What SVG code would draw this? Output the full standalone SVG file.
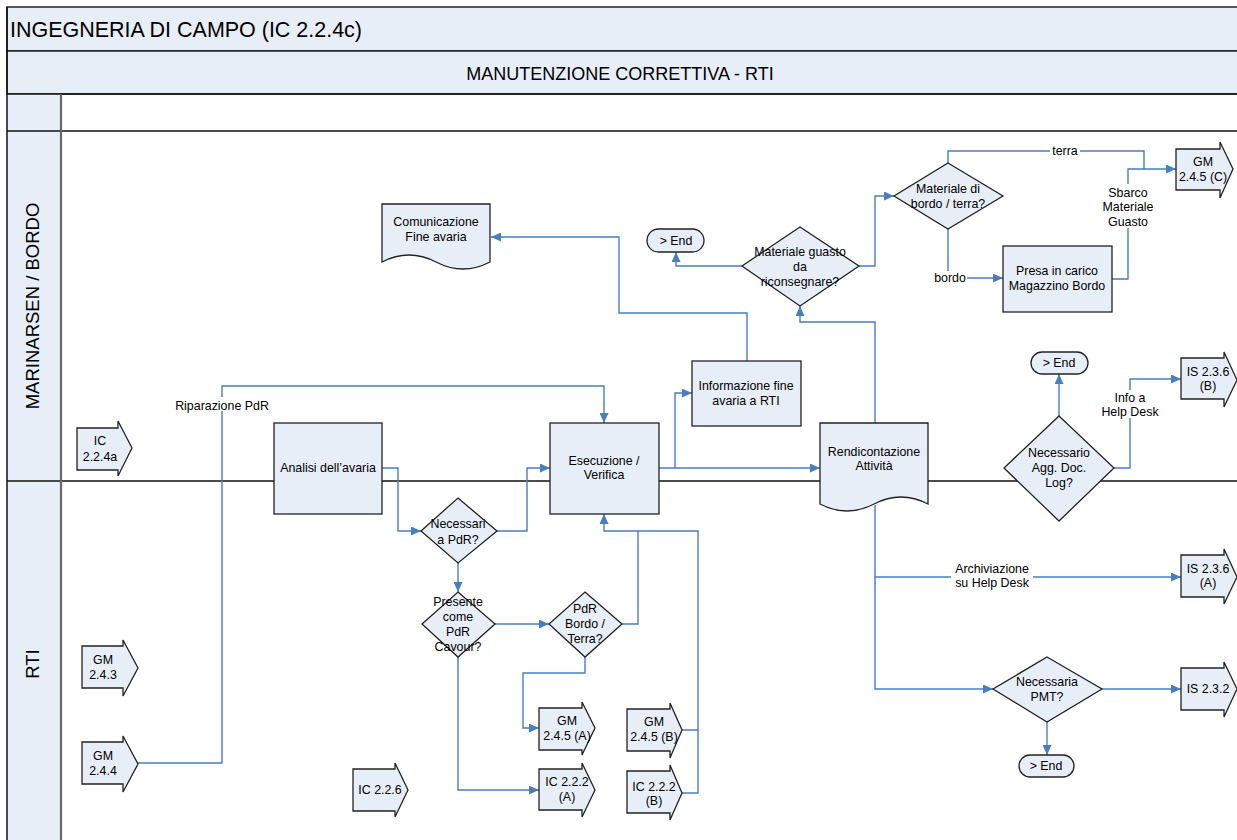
<svg xmlns="http://www.w3.org/2000/svg" width="1237" height="840" viewBox="0 0 1237 840">
<defs>
<style>
.hdr{fill:#E8EEF7;stroke:#222;stroke-width:1.5}
.shp{fill:#E8EEF7;stroke:#222;stroke-width:1.3}
.ln{fill:none;stroke:#4A7EBB;stroke-width:1.4}
.lane{stroke:#111;stroke-width:1.5;fill:none}
.col{stroke:#666;stroke-width:2.2}
text{font-family:"Liberation Sans",Arial,sans-serif;fill:#000}
.t{font-size:12.4px;text-anchor:middle}
.lbl{fill:#fff}
</style>
<marker id="ah" markerUnits="userSpaceOnUse" markerWidth="11" markerHeight="9" refX="10" refY="4.5" orient="auto" viewBox="0 0 11 9">
<path d="M0,0 L10,4.5 L0,9 Z" fill="#4A7EBB"/>
</marker>
</defs>

<g id="frame">
<rect x="0" y="0" width="1237" height="840" fill="#fff"/>
<rect class="hdr" x="7" y="7" width="1240" height="44"/>
<rect class="hdr" x="7" y="51" width="1240" height="43"/>
<rect x="7" y="94" width="54" height="760" fill="#E8EEF7"/>
<line class="lane" x1="7" y1="94" x2="1237" y2="94"/>
<line class="lane" x1="7" y1="131" x2="1237" y2="131"/>
<line class="lane" x1="7" y1="481" x2="1237" y2="481"/>
<line class="lane" x1="7" y1="7" x2="7" y2="840"/>
<line class="col" x1="61" y1="94" x2="61" y2="840"/>
<text x="10" y="37" style="font-size:21.5px" textLength="352" lengthAdjust="spacingAndGlyphs">INGEGNERIA DI CAMPO (IC 2.2.4c)</text>
<text x="620" y="80" style="font-size:18px;text-anchor:middle">MANUTENZIONE CORRETTIVA - RTI</text>
<text transform="translate(39,306) rotate(-90)" style="font-size:18.5px;text-anchor:middle">MARINARSEN / BORDO</text>
<text transform="translate(39,664) rotate(-90)" style="font-size:18.5px;text-anchor:middle">RTI</text>
</g>

<g id="connectors">
<path class="ln" d="M382,468 H398 V531 H421" marker-end="url(#ah)"/>
<path class="ln" d="M497,531 H527 V468 H550" marker-end="url(#ah)"/>
<path class="ln" d="M458,563 V592" marker-end="url(#ah)"/>
<path class="ln" d="M495,624 H549" marker-end="url(#ah)"/>
<path class="ln" d="M622,624 H638 V531"/>
<path class="ln" d="M682,730 H698 V531 H604 V514" marker-end="url(#ah)"/>
<path class="ln" d="M682,793 H698 V730"/>
<path class="ln" d="M585,657 V673 H523 V728 H539" marker-end="url(#ah)"/>
<path class="ln" d="M458,657 V790 H539" marker-end="url(#ah)"/>
<path class="ln" d="M138,763 H222 V386 H604 V423" marker-end="url(#ah)"/>
<path class="ln" d="M659,468 H820" marker-end="url(#ah)"/>
<path class="ln" d="M675,468 V393 H692" marker-end="url(#ah)"/>
<path class="ln" d="M747,361 V313 H619 V237 H491" marker-end="url(#ah)"/>
<path class="ln" d="M875,423 V322 H800 V306" marker-end="url(#ah)"/>
<path class="ln" d="M742,266 H676 V252" marker-end="url(#ah)"/>
<path class="ln" d="M859,266 H875 V196 H894" marker-end="url(#ah)"/>
<path class="ln" d="M948,163 V151 H1144 V169"/>
<path class="ln" d="M948,229 V278 H1003" marker-end="url(#ah)"/>
<path class="ln" d="M1112,279 H1128 V169 H1176" marker-end="url(#ah)"/>
<path class="ln" d="M875,505 V577 H1181" marker-end="url(#ah)"/>
<path class="ln" d="M875,577 V689 H993" marker-end="url(#ah)"/>
<path class="ln" d="M1102,689 H1181" marker-end="url(#ah)"/>
<path class="ln" d="M1047,722 V755" marker-end="url(#ah)"/>
<path class="ln" d="M1059,416 V374" marker-end="url(#ah)"/>
<path class="ln" d="M1114,468 H1130 V379 H1181" marker-end="url(#ah)"/>
<g id="connector-labels">
<rect class="lbl" x="172" y="397" width="100" height="14"/>
<text class="t" x="222" y="410">Riparazione PdR</text>
<rect class="lbl" x="1050" y="144" width="30" height="14"/>
<text class="t" x="1065" y="155">terra</text>
<rect class="lbl" x="933" y="271" width="34" height="14"/>
<text class="t" x="950" y="282">bordo</text>
<rect class="lbl" x="1102" y="184" width="52" height="44"/>
<text class="t" x="1128" y="197">Sbarco</text>
<text class="t" x="1128" y="211">Materiale</text>
<text class="t" x="1128" y="226">Guasto</text>
<rect class="lbl" x="1096" y="390" width="68" height="28"/>
<text class="t" x="1130" y="402">Info a</text>
<text class="t" x="1130" y="416">Help Desk</text>
<rect class="lbl" x="951" y="562" width="82" height="28"/>
<text class="t" x="992" y="573">Archiviazione</text>
<text class="t" x="992" y="587">su Help Desk</text>
</g>
</g>

<g id="ic224a"><path class="shp" d="M77,428 H118 V421 L132,448 L118,476 V470 H77 Z"/><text class="t" x="100" y="445">IC</text><text class="t" x="100" y="461">2.2.4a</text></g>
<g id="gm243"><path class="shp" d="M82,646 H123 V640 L138,668 L123,696 V688 H82 Z"/><text class="t" x="103" y="664">GM</text><text class="t" x="103" y="679">2.4.3</text></g>
<g id="gm244"><path class="shp" d="M82,742 H123 V736 L138,764 L123,792 V784 H82 Z"/><text class="t" x="103" y="760">GM</text><text class="t" x="103" y="775">2.4.4</text></g>
<g id="ic226"><path class="shp" d="M353,769 H395 V763 L408,790 L395,817 V811 H353 Z"/><text class="t" x="380" y="794">IC 2.2.6</text></g>
<g id="gm245a"><path class="shp" d="M539,708 H582 V702 L595,728 L582,755 V750 H539 Z"/><text class="t" x="567" y="725">GM</text><text class="t" x="567" y="740">2.4.5 (A)</text></g>
<g id="ic222a"><path class="shp" d="M539,769 H582 V763 L595,790 L582,817 V810 H539 Z"/><text class="t" x="567" y="786">IC 2.2.2</text><text class="t" x="567" y="801">(A)</text></g>
<g id="gm245b"><path class="shp" d="M627,709 H670 V703 L682,730 L670,758 V751 H627 Z"/><text class="t" x="654" y="726">GM</text><text class="t" x="654" y="741">2.4.5 (B)</text></g>
<g id="ic222b"><path class="shp" d="M627,771 H670 V765 L682,793 L670,820 V813 H627 Z"/><text class="t" x="654" y="791">IC 2.2.2</text><text class="t" x="654" y="805">(B)</text></g>
<g id="gm245c"><path class="shp" d="M1176,149 H1220 V142 L1233,169 L1220,198 V190 H1176 Z"/><text class="t" x="1203" y="166">GM</text><text class="t" x="1203" y="181">2.4.5 (C)</text></g>
<g id="is236b"><path class="shp" d="M1181,358 H1224 V352 L1237,380 L1224,407 V399 H1181 Z"/><text class="t" x="1208" y="376">IS 2.3.6</text><text class="t" x="1208" y="390">(B)</text></g>
<g id="is236a"><path class="shp" d="M1181,555 H1224 V549 L1237,577 L1224,604 V597 H1181 Z"/><text class="t" x="1208" y="573">IS 2.3.6</text><text class="t" x="1208" y="587">(A)</text></g>
<g id="is232"><path class="shp" d="M1181,668 H1224 V662 L1237,689 L1224,717 V710 H1181 Z"/><text class="t" x="1208" y="693">IS 2.3.2</text></g>

<g id="analisi"><rect class="shp" x="274" y="423" width="108" height="91"/><text class="t" x="328" y="472">Analisi dell’avaria</text></g>
<g id="esecuzione"><rect class="shp" x="550" y="423" width="109" height="91"/><text class="t" x="604" y="465">Esecuzione /</text><text class="t" x="604" y="479">Verifica</text></g>
<g id="informazione"><rect class="shp" x="692" y="361" width="109" height="65"/><text class="t" x="746" y="390">Informazione fine</text><text class="t" x="746" y="405">avaria a RTI</text></g>
<g id="presa"><rect class="shp" x="1003" y="246" width="109" height="66"/><text class="t" x="1057" y="275">Presa in carico</text><text class="t" x="1057" y="290">Magazzino Bordo</text></g>

<g id="comunicazione"><path class="shp" d="M382,204 H490 V262 Q463,276 436,262 T382,262 Z"/><text class="t" x="436" y="226">Comunicazione</text><text class="t" x="436" y="241">Fine avaria</text></g>
<g id="rendicontazione"><path class="shp" d="M820,423 H928 V504 Q901,490 874,504 T820,504 Z"/><text class="t" x="874" y="456">Rendicontazione</text><text class="t" x="874" y="470">Attività</text></g>

<g id="end1"><rect class="shp" x="647" y="229" width="57" height="23" rx="11.5"/><text class="t" x="676" y="245">&gt; End</text></g>
<g id="end2"><rect class="shp" x="1031" y="352" width="57" height="22" rx="11"/><text class="t" x="1059" y="367">&gt; End</text></g>
<g id="end3"><rect class="shp" x="1019" y="755" width="55" height="22" rx="11"/><text class="t" x="1046" y="770">&gt; End</text></g>

<g id="necessari-pdr"><path class="shp" d="M458,498 L497,531 L458,563 L421,531 Z"/><text class="t" x="458" y="528">Necessari</text><text class="t" x="458" y="544">a PdR?</text></g>
<g id="presente-cavour"><path class="shp" d="M458,592 L495,624 L458,657 L422,624 Z"/><text class="t" x="458" y="606">Presente</text><text class="t" x="458" y="621">come</text><text class="t" x="458" y="636">PdR</text><text class="t" x="458" y="651">Cavour?</text></g>
<g id="pdr-bordo-terra"><path class="shp" d="M585,592 L622,624 L585,657 L549,624 Z"/><text class="t" x="585" y="613">PdR</text><text class="t" x="585" y="628">Bordo /</text><text class="t" x="585" y="643">Terra?</text></g>
<g id="materiale-guasto"><path class="shp" d="M800,227 L859,266 L800,306 L742,266 Z"/><text class="t" x="800" y="256">Materiale guasto</text><text class="t" x="800" y="271">da</text><text class="t" x="800" y="286">riconsegnare?</text></g>
<g id="materiale-bordo-terra"><path class="shp" d="M948,163 L1003,196 L948,229 L894,196 Z"/><text class="t" x="948" y="193">Materiale di</text><text class="t" x="948" y="208">bordo / terra?</text></g>
<g id="necessario-agg"><path class="shp" d="M1059,416 L1114,468 L1059,521 L1004,468 Z"/><text class="t" x="1059" y="457">Necessario</text><text class="t" x="1059" y="472">Agg. Doc.</text><text class="t" x="1059" y="487">Log?</text></g>
<g id="necessaria-pmt"><path class="shp" d="M1047,657 L1102,689 L1047,722 L993,689 Z"/><text class="t" x="1047" y="686">Necessaria</text><text class="t" x="1047" y="701">PMT?</text></g>
</svg>
